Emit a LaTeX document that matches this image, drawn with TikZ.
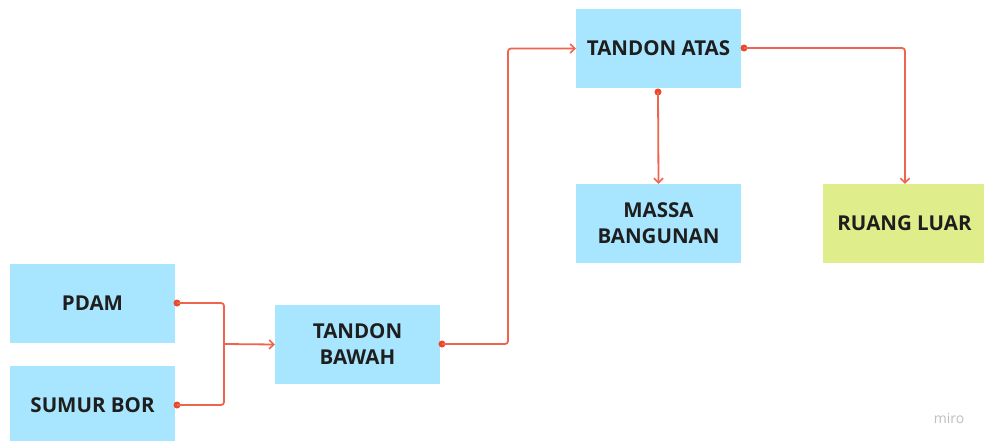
\documentclass[tikz,border=0pt]{standalone}
\usepackage{fontspec}
\setmainfont{Open Sans}
\usetikzlibrary{arrows.meta}
\definecolor{boxblue}{RGB}{168,230,255}
\definecolor{boxgreen}{RGB}{223,238,138}
\definecolor{flow}{RGB}{240,100,78}
\definecolor{flowdot}{RGB}{238,72,42}
\definecolor{ink}{RGB}{30,30,30}
\tikzset{
  x=1pt, y=-1pt,
  blockbox/.style={fill=boxblue, draw=none, minimum width=165pt, minimum height=79pt,
    inner sep=0pt, align=center, font=\bfseries\fontsize{20.5}{26}\selectfont, text=ink},
  greenbox/.style={blockbox, fill=boxgreen},
  pipe/.style={draw=flow, line width=1.8pt, rounded corners=3pt,
    -{Straight Barb[length=4.5pt,width=9pt,line width=1.6pt]}},
  startdot/.style={circle, fill=flowdot, inner sep=0pt, minimum size=7pt},
}
\begin{document}
\begin{tikzpicture}
\useasboundingbox (0,0) rectangle (984,441);
\fill[white] (0,0) rectangle (984,441);

% water sources and tanks
\node[blockbox] (pdam)  at (92.5,303.5) {PDAM};
\begin{scope}
  \clip (0,0) rectangle (984,441);
  \node[blockbox] (sumur) at (92.5,405.5) {SUMUR BOR};
  \node[greenbox, minimum width=163pt] (luar) at (904.5,223.5) {RUANG LUAR};
\end{scope}
\node[blockbox] (bawah) at (357.5,344.5) {TANDON\\BAWAH};
\node[blockbox] (atas)  at (658.5,48.5) {TANDON ATAS};
\node[blockbox] (massa) at (658.5,223.5) {MASSA\\BANGUNAN};

% connector start points
\node[startdot] (d1) at (177,303) {};
\node[startdot] (d2) at (177,405) {};
\node[startdot] (d3) at (442,344) {};
\node[startdot] (d4) at (658,92) {};
\node[startdot] (d5) at (744,48) {};
\coordinate (j1) at (224,344);

% pipes
\draw[pipe, -] (d1.center) -| (j1);
\draw[pipe, -] (d2.center) -| (j1);
\draw[pipe] (j1) -- (bawah.west);
\draw[pipe] (d3.center) -| (508,200) |- (atas.west);
\draw[pipe] (d4.center) -- (massa.north);
\draw[pipe] (d5.center) -| (luar.north -| 905,0);

% watermark
\node[text=black!25, font=\fontsize{14}{16}\selectfont] (wm) at (949,418) {miro};
\end{tikzpicture}
\end{document}
